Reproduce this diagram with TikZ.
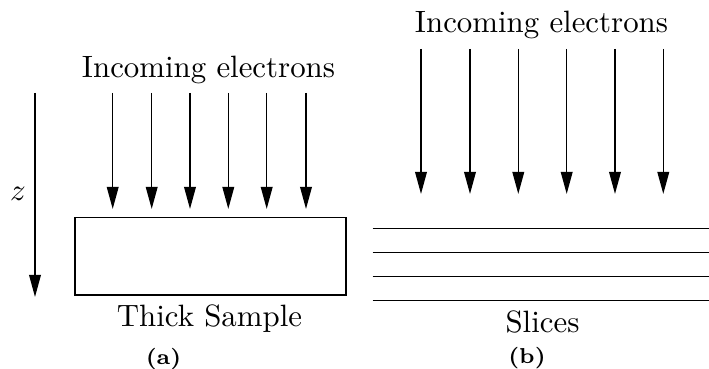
\documentclass[tikz,border=0pt]{standalone}
\usetikzlibrary{arrows.meta}
\begin{document}
\begin{tikzpicture}[x=0.3241pt,y=-0.3241pt,
  beam/.style={line width=0.5pt,-{Triangle[length=7.2pt,width=3.8pt]}},
  thin line/.style={line width=0.5pt},
  label/.style={anchor=base,inner sep=0pt,font=\normalsize},
  sublabel/.style={anchor=base,inner sep=0pt,font=\fontsize{7}{8}\selectfont\bfseries}]
\useasboundingbox (0,0) rectangle (709,369);

% ---- (a) thick sample ----
\node[label] (tin) at (208.5,78) {Incoming electrons};
\node[draw,thin line,inner sep=0pt,anchor=north west,
      minimum width=271*0.3241pt,minimum height=77.5*0.3241pt] (sample) at (74,216.7) {};
\node[label] (tlab) at (209.5,327) {Thick Sample};
\node[sublabel] (capa) at (163.5,364.5) {(a)};

\foreach \x [count=\i] in {112.7,151.7,190,228.3,266.7,306}{
  \coordinate (as\i) at (\x,93);
  \coordinate (ae\i) at (\x,209);
  \draw[beam] (as\i) -- (ae\i);
}

% depth axis
\coordinate (zs) at (35,93);
\coordinate (ze) at (35,297);
\draw[beam] (zs) -- (ze);
\node (zlab) at (18,193.5) {$z$};

% ---- (b) slices ----
\node[label] (sin) at (541.5,33) {Incoming electrons};
\foreach \x [count=\i] in {421,470,518.3,566.7,615,663.3}{
  \coordinate (bs\i) at (\x,49);
  \coordinate (be\i) at (\x,194);
  \draw[beam] (bs\i) -- (be\i);
}
\foreach \y [count=\i] in {228.3,252.3,276.7,300.7}{
  \coordinate (ls\i) at (372.7,\y);
  \coordinate (le\i) at (709,\y);
  \draw[thin line] (ls\i) -- (le\i);
}
\node[label] (slab) at (542.5,333) {Slices};
\node[sublabel] (capb) at (527,364) {(b)};
\end{tikzpicture}
\end{document}
